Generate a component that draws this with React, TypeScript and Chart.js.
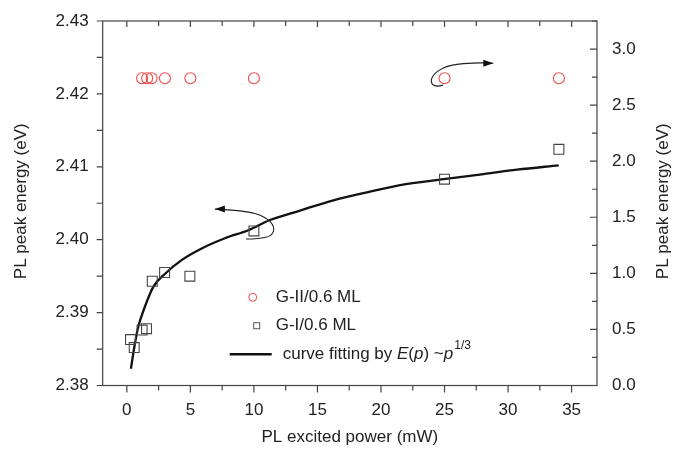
import React, { useEffect, useRef } from "react";
import { Chart, registerables } from "chart.js";

Chart.register(...registerables);

// ---- data ----
const gIIPower = [1.2, 1.6, 1.95, 3.0, 5.0, 10.0, 25.0, 34.0];
const gIIEnergyRight = [2.74, 2.74, 2.74, 2.74, 2.74, 2.74, 2.74, 2.74];

const gIPower = [0.29, 0.58, 1.2, 1.55, 2.0, 2.97, 4.96, 10.0, 25.0, 34.0];
const gIEnergy = [2.3863, 2.3852, 2.3876, 2.3878, 2.3943, 2.3955, 2.3950, 2.4012, 2.4083, 2.4124];

const fitPower = [0.32, 0.63, 0.89, 1.42, 2.07, 2.99, 4.31, 5.89, 7.72, 9.56, 11.27, 13.63, 16.26, 18.89, 21.51, 24.93, 28.08, 30.71, 33.99];
const fitEnergy = [2.3823, 2.3857, 2.3880, 2.3908, 2.3935, 2.3953, 2.3972, 2.3988, 2.4002, 2.4013, 2.4027, 2.4040, 2.4054, 2.4065, 2.4075, 2.4083, 2.4090, 2.4096, 2.4102];

const xTicks = [0, 5, 10, 15, 20, 25, 30, 35];
const yLeftTicks = [2.38, 2.39, 2.40, 2.41, 2.42, 2.43];
const yRightTicks = [0, 0.5, 1.0, 1.5, 2.0, 2.5, 3.0];

const legendLabels = ["G-II/0.6 ML", "G-I/0.6 ML", "curve fitting by "];
const yTitle = "PL peak energy (eV)";
const xTitle = "PL excited power (mW)";

// arrow annotations in data coords (x, left-y)
const arrowLeft = [
  [6.93, 2.4042], [9.29, 2.4040], [10.87, 2.4032], [11.65, 2.4018], [11.42, 2.4005], [10.31, 2.4001], [9.37, 2.4001],
];
const arrowRight = [
  [24.88, 2.4212], [24.25, 2.4209], [23.86, 2.4217], [24.25, 2.4230], [25.43, 2.4240], [27.54, 2.4243], [28.84, 2.4242],
];

const FONT = "'Liberation Sans', Arial, sans-serif";
const AXIS = "#444";
const TXT = "#222";

const pluginDecor = {
  id: "decor",
  afterDraw(chart: any) {
    const ctx = chart.ctx;
    const { left, right, top, bottom } = chart.chartArea;
    const sx = chart.scales.x;
    const sy = chart.scales.y;
    const sy2 = chart.scales.y2;
    ctx.save();
    // frame
    ctx.strokeStyle = AXIS;
    ctx.lineWidth = 1.2;
    ctx.strokeRect(left, top, right - left, bottom - top);
    ctx.beginPath();
    for (let v = 0; v <= 35.01; v += 2.5) {
      const px = sx.getPixelForValue(v);
      const major = Math.abs(v % 5) < 1e-6;
      ctx.moveTo(px, bottom);
      ctx.lineTo(px, bottom + (major ? 7 : 5));
      ctx.moveTo(px, top);
      ctx.lineTo(px, top + (major ? 6 : 5));
    }
    for (let i = 0; i <= 10; i++) {
      const v = 2.38 + i * 0.005;
      const py = sy.getPixelForValue(v);
      ctx.moveTo(left, py);
      ctx.lineTo(left - 6, py);
    }
    for (let i = 0; i <= 6; i++) {
      const v = i * 0.5;
      const py = sy2.getPixelForValue(v);
      ctx.moveTo(right, py);
      ctx.lineTo(right - 7, py);
      const pm = sy2.getPixelForValue(v + 0.25);
      if (pm >= top) {
        ctx.moveTo(right, pm);
        ctx.lineTo(right - 5, pm);
      }
    }
    ctx.stroke();

    // y titles (both read bottom-to-top)
    ctx.font = `17px ${FONT}`;
    ctx.fillStyle = TXT;
    ctx.textAlign = "center";
    ctx.textBaseline = "middle";
    const cy = (top + bottom) / 2 - 2;
    [21, 663].forEach((cx) => {
      ctx.save();
      ctx.translate(cx, cy);
      ctx.rotate(-Math.PI / 2);
      ctx.fillText(yTitle, 0, 0);
      ctx.restore();
    });

    // arrows
    const drawArrow = (pts: number[][], dir: number) => {
      const p = pts.map(([x, y]) => [sx.getPixelForValue(x), sy.getPixelForValue(y)]);
      ctx.beginPath();
      ctx.strokeStyle = "#222";
      ctx.lineWidth = 1.1;
      ctx.moveTo(p[0][0], p[0][1]);
      for (let i = 1; i < p.length - 1; i++) {
        const mx = (p[i][0] + p[i + 1][0]) / 2;
        const my = (p[i][1] + p[i + 1][1]) / 2;
        ctx.quadraticCurveTo(p[i][0], p[i][1], mx, my);
      }
      ctx.lineTo(p[p.length - 1][0], p[p.length - 1][1]);
      ctx.stroke();
      const tip = dir < 0 ? p[0] : p[p.length - 1];
      ctx.beginPath();
      ctx.fillStyle = "#111";
      ctx.moveTo(tip[0], tip[1]);
      ctx.lineTo(tip[0] - dir * 10, tip[1] - 3.5);
      ctx.lineTo(tip[0] - dir * 10, tip[1] + 3.5);
      ctx.closePath();
      ctx.fill();
    };
    drawArrow(arrowLeft, -1);
    drawArrow(arrowRight, 1);

    // legend
    const lx = left + (right - left) * 0.35;
    const ly0 = top + (bottom - top) * 0.758;
    const gap = (bottom - top) * 0.078;
    ctx.font = `17px ${FONT}`;
    ctx.fillStyle = TXT;
    ctx.textBaseline = "middle";
    ctx.textAlign = "left";
    ctx.beginPath();
    ctx.strokeStyle = "rgb(240,70,70)";
    ctx.lineWidth = 1;
    ctx.arc(lx - 23, ly0, 4, 0, Math.PI * 2);
    ctx.stroke();
    ctx.fillText(legendLabels[0], lx, ly0);
    const ly1 = ly0 + gap;
    ctx.beginPath();
    ctx.strokeStyle = "#555";
    ctx.strokeRect(lx - 22, ly1 - 3, 6, 6);
    ctx.fillText(legendLabels[1], lx, ly1);
    const ly2 = ly1 + gap;
    ctx.beginPath();
    ctx.strokeStyle = "#111";
    ctx.lineWidth = 2.5;
    ctx.moveTo(lx - 46, ly2);
    ctx.lineTo(lx - 4, ly2);
    ctx.stroke();
    let tx = lx + 7;
    const seg = (t: string, italic: boolean) => {
      ctx.font = `${italic ? "italic " : ""}17px ${FONT}`;
      ctx.fillText(t, tx, ly2);
      tx += ctx.measureText(t).width;
    };
    seg(legendLabels[2], false);
    seg("E", true);
    seg("(", false);
    seg("p", true);
    seg(") ~", false);
    seg("p", true);
    ctx.font = `12px ${FONT}`;
    ctx.fillText("1/3", tx + 1, ly2 - 8);
    ctx.restore();
  },
};

export default function App() {
  const ref = useRef<HTMLCanvasElement>(null);
  useEffect(() => {
    const chart = new Chart(ref.current!, {
      type: "scatter",
      data: {
        datasets: [
          {
            label: "G-II/0.6 ML",
            data: gIIPower.map((x, i) => ({ x, y: gIIEnergyRight[i] })),
            yAxisID: "y2",
            pointStyle: "circle",
            pointRadius: 5.5,
            borderColor: "rgb(240,70,70)",
            backgroundColor: "rgba(0,0,0,0)",
            borderWidth: 1.1,
          },
          {
            label: "G-I/0.6 ML",
            data: gIPower.map((x, i) => ({ x, y: gIEnergy[i] })),
            yAxisID: "y",
            pointStyle: "rect",
            pointRadius: 7,
            borderColor: "#444",
            backgroundColor: "rgba(0,0,0,0)",
            borderWidth: 1.1,
          },
          {
            type: "line",
            label: "fit",
            data: fitPower.map((x, i) => ({ x, y: fitEnergy[i] })),
            yAxisID: "y",
            borderColor: "#111",
            borderWidth: 2.3,
            pointRadius: 0,
            cubicInterpolationMode: "monotone",
            fill: false,
          } as any,
        ],
      },
      options: {
        animation: false,
        responsive: false,
        layout: { padding: { top: 21, left: 0, right: 0, bottom: 0 } },
        plugins: { legend: { display: false }, tooltip: { enabled: false } },
        scales: {
          x: {
            type: "linear",
            min: -1.9,
            max: 37,
            grid: { display: false },
            border: { display: false },
            afterBuildTicks: (s: any) => {
              s.ticks = xTicks.map((v) => ({ value: v }));
            },
            afterFit: (s: any) => {
              s.height = 64.5;
            },
            ticks: { color: TXT, font: { family: FONT, size: 17 }, padding: 7, maxRotation: 0 },
            title: { display: true, text: xTitle, color: TXT, font: { family: FONT, size: 17 }, padding: { top: 2, bottom: 2 } },
          },
          y: {
            type: "linear",
            position: "left",
            min: 2.38,
            max: 2.43,
            grid: { display: false },
            border: { display: false },
            afterBuildTicks: (s: any) => {
              s.ticks = yLeftTicks.map((v) => ({ value: v }));
            },
            afterFit: (s: any) => {
              s.width = 102.7;
            },
            ticks: { color: TXT, font: { family: FONT, size: 17 }, padding: 6, callback: (v: any) => Number(v).toFixed(2) },
            title: { display: false },
          },
          y2: {
            type: "linear",
            position: "right",
            min: 0,
            max: 3.25,
            grid: { display: false },
            border: { display: false },
            afterBuildTicks: (s: any) => {
              s.ticks = yRightTicks.map((v) => ({ value: v }));
            },
            afterFit: (s: any) => {
              s.width = 78;
            },
            ticks: { color: TXT, font: { family: FONT, size: 17 }, padding: 7, callback: (v: any) => Number(v).toFixed(1) },
            title: { display: false },
          },
        },
      },
      plugins: [pluginDecor],
    } as any);
    return () => chart.destroy();
  }, []);
  return (
    <div style={{ position: "fixed", left: 0, top: 0, width: 675, height: 450, background: "#fff" }}>
      <canvas ref={ref} width={675} height={450} />
    </div>
  );
}
